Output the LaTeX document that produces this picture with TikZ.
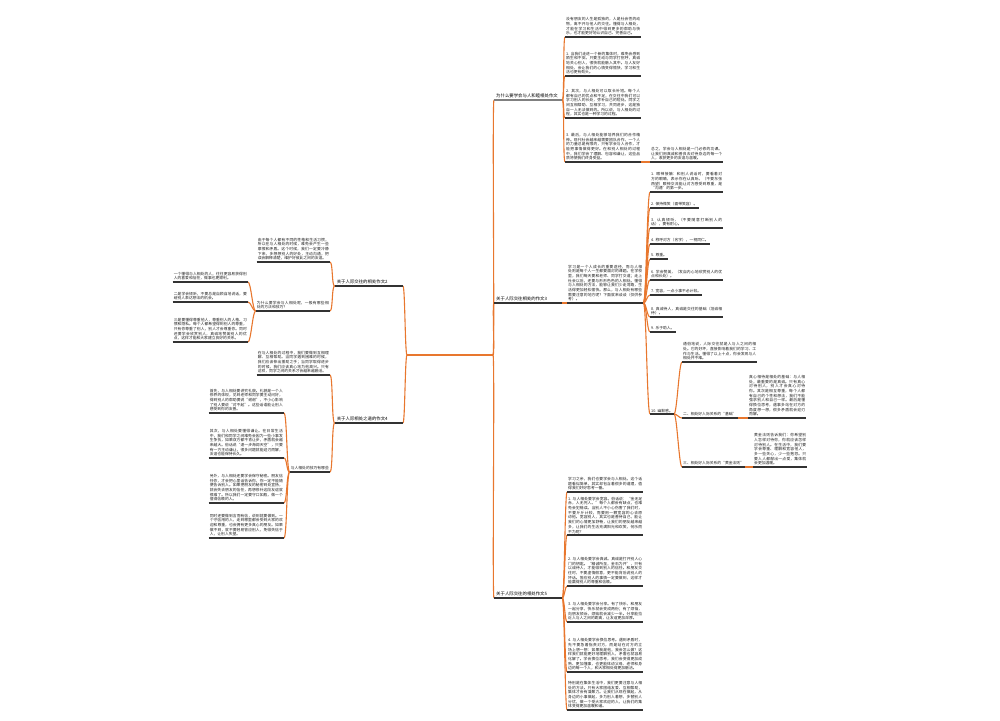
\documentclass[tikz,border=0pt]{standalone}
\usepackage{fontspec}
\usepackage{tikz}
\setmainfont{Noto Sans CJK SC}
\XeTeXlinebreaklocale "zh"
\XeTeXlinebreakskip = 0pt plus 0.5pt

\definecolor{linkorange}{HTML}{E8772E}
\definecolor{lineblack}{HTML}{333333}
\definecolor{textgray}{HTML}{1E1E1E}

\begin{document}
\begin{tikzpicture}[
	x=1pt, y=-1pt,
	conn/.style={draw=linkorange, line width=1.1pt},
	uline/.style={draw=lineblack, line width=1.1pt},
	gline/.style={draw=black!50, line width=1.3pt},
	leaf/.style={inner xsep=1pt, inner ysep=1.5pt, align=justify, text=textgray, font=\fontsize{3.8}{4.7}\selectfont},
	rleaf/.style={leaf, anchor=south west},
	lleaf/.style={leaf, anchor=south east},
	branch/.style={inner xsep=2pt, inner ysep=1.5pt, text width=64pt, text=black, font=\fontsize{4.4}{5.4}\selectfont}
]
	\useasboundingbox (0,0) rectangle (1000,720);

	\coordinate (rootL) at (407,355);
	\coordinate (rootR) at (493,355);

	% right side
	\node(b1)[branch, anchor=south west] at (494,100) {为什么要学会与人和睦相处作文};
	\node(b2)[branch, anchor=south west] at (494,303) {关于人际交往相处的作文3};
	\node(b3)[branch, anchor=south west] at (494,598) {关于人际交往的相处作文5};

	\node(b1c1)[rleaf, text width=74pt] at (565,37) {没有朋友的人生是孤独的，人是社会性的动物，离不开与他人的交往。懂得与人相处，才能在学习和生活中得到更多的帮助与快乐，也才能更好地认识自己、完善自己。};
	\node(b1c2)[rleaf, text width=74pt] at (565,76) {1. 当我们走进一个新的集体时，难免会感到陌生和不安。只要主动与同学打招呼，真诚地关心别人，很快就能融入其中。与人友好相处，会让我们的心情变得愉快，学习和生活也更有劲头。};
	\node(b1c3)[rleaf, text width=74pt] at (565,118) {2. 其次，与人相处可以取长补短。每个人都有自己的优点和不足，在交往中我们可以学习别人的长处，弥补自己的短处。同学之间互相帮助、互相学习，共同进步，这是独自一人无法做到的。所以说，与人相处的过程，其实也是一种学习的过程。};
	\node(b1c4)[rleaf, text width=74pt] at (565,162) {3. 最后，与人相处能够培养我们的合作精神。现代社会越来越需要团队合作，一个人的力量总是有限的，只有学会与人合作，才能把事情做得更好。在和别人相处的过程中，我们学会了理解、包容和谦让，这些品质将使我们终身受益。};
	\node(b1c4a)[rleaf, text width=71pt] at (650,162) {总之，学会与人相处是一门必修的功课。让我们用真诚和善良去对待身边的每一个人，收获更多的友谊与温暖。};

	\node(b2c1)[rleaf, text width=74pt] at (567,303) {学习是一个人成长的重要途径，而与人相处则是每个人一生都要面对的课题。在学校里，我们每天要和老师、同学打交道；走上社会以后，还要与形形色色的人相处。懂得与人相处的方法，能够让我们少走弯路，生活得更加轻松愉快。那么，与人相处有哪些需要注意的地方呢？下面就来谈谈（仅供参考）。};
	\node(k1)[rleaf, text width=71pt] at (650,192) {1. 眼神接触：和别人说话时，要看着对方的眼睛，表示你在认真听。（不要东张西望）眼神交流能让对方感受到尊重，是“沟通”的第一步。};
	\node(k2)[rleaf] at (650,208) {2. 保持微笑（面带笑容）。};
	\node(k3)[rleaf, text width=71pt] at (650,228) {3. 认真倾听，（不要随意打断别人的话），要有耐心。};
	\node(k4)[rleaf] at (650,244) {4. 称呼对方（名字），一视同仁。};
	\node(k5)[rleaf] at (650,259) {5. 尊重。};
	\node(k6)[rleaf, text width=71pt] at (650,280) {6. 学会赞美，（发自内心地欣赏别人的优点和长处）。};
	\node(k7)[rleaf] at (650,295) {7. 宽容，一点小事不必计较。};
	\node(k8)[rleaf, text width=71pt] at (650,317) {8. 真诚待人，真诚是交往的基础（坦诚相待）。};
	\node(k9)[rleaf] at (650,332) {9. 乐于助人。};
	\node(k10)[rleaf] at (650,414) {10. 幽默感。};
	\node(k10a)[rleaf, text width=73pt] at (682,362) {通俗地说，人际交往就是人与人之间的相处。它的好坏，直接影响着我们的学习、工作与生活。懂得了以上十点，你会发现与人相处并不难。};
	\node(k10b)[rleaf] at (682,418) {二、相处好人际关系的“基础”};
	\node(k10c)[rleaf] at (682,467) {三、相处好人际关系的“黄金法则”};
	\node(k10bt)[rleaf, text width=56pt] at (748,418) {真心相待是相处的基础：与人相处，最重要的是真诚。只有真心对待别人，别人才会真心对待你。其次是相互尊重，每个人都有自己的个性和想法，我们不能强求别人和自己一样。最后是懂得换位思考，遇事多站在对方的角度想一想，很多矛盾就会迎刃而解。};
	\node(k10ct)[rleaf, text width=52pt] at (753,467) {黄金法则告诉我们：你希望别人怎样对待你，你就应该怎样对待别人。在生活中，我们要学会尊重、理解和宽容他人，多一些关心，少一些抱怨。只要人人都献出一点爱，集体就会更加温暖。};

	\node(m1)[rleaf, text width=74pt] at (567,492) {学习之余，我们也要学会与人相处。这个话题看似简单，其实却包含着很多的道理，值得我们好好思考一番。};
	\node(m2)[rleaf, text width=74pt] at (567,535) {1. 与人相处要学会宽容。俗话说：“金无足赤，人无完人。”每个人都会有缺点，也难免会犯错误。当别人不小心伤害了我们时，不要斤斤计较，而要用一颗宽容的心去原谅他。宽容别人，其实也是善待自己，能让我们的心情更加舒畅，让我们的朋友越来越多，让我们的生活充满阳光和欢笑，何乐而不为呢？};
	\node(m3)[rleaf, text width=74pt] at (567,586) {2. 与人相处要学会真诚。真诚是打开别人心门的钥匙。“精诚所至，金石为开”，只有以诚待人，才能得到别人的信任。和朋友交往时，不要虚情假意，更不能背后说别人的坏话。答应别人的事情一定要做到，这样才能赢得别人的尊重和信赖。};
	\node(m4)[rleaf, text width=74pt] at (567,622) {3. 与人相处要学会分享。有了快乐，和朋友一起分享，快乐就会变成两份；有了烦恼，向朋友倾诉，烦恼就会减少一半。分享能拉近人与人之间的距离，让友谊更加深厚。};
	\node(m5)[rleaf, text width=74pt] at (567,672) {4. 与人相处要学会换位思考。遇到矛盾时，先不要急着指责对方，而是站在对方的立场上想一想：如果我是他，我会怎么做？这样我们就能更好地理解别人，矛盾也就容易化解了。学会换位思考，我们会变得更加成熟、更加懂事，也更能体谅父母、老师和身边的每一个人，和大家相处得更加融洽。};
	\node(m6)[rleaf, text width=74pt] at (567,710) {特别是在集体生活中，我们更要注意与人相处的方法。只有大家团结友爱、互相帮助，集体才会有凝聚力。让我们从现在做起，从身边的小事做起，多为别人着想，多替别人分忧，做一个受大家欢迎的人，让我们的集体变得更加温暖和谐。};

	% left side
	\node(b4)[branch, anchor=south east] at (403,286) {关于人际交往的相处作文2};
	\node(b5)[branch, anchor=south east] at (403,423) {关于人际相处之道的作文4};

	\node(b4c1)[lleaf, text width=71pt] at (330,262) {由于每个人都有不同的性格和生活习惯，所以在与人相处的时候，难免会产生一些摩擦和矛盾。这个时候，我们一定要冷静下来，多想想别人的好处，主动沟通，把误会解释清楚，维护好彼此之间的友谊。};
	\node(b4c2)[lleaf, text width=72pt] at (330,311) {为什么要学会与人相处呢，一般有哪些相处的方法和技巧？};
	\node(p1)[lleaf, text width=73pt] at (248,282) {一个懂得与人相处的人，往往更容易获得别人的喜爱和信任，做事也更顺利。};
	\node(p2)[lleaf, text width=73pt] at (248,302) {二是学会倾听，不要总是自顾自地说话，要给别人表达想法的机会。};
	\node(p3)[lleaf, text width=73pt] at (248,342) {三是要懂得尊重他人，尊重别人的人格、习惯和隐私。每个人都希望得到别人的尊重，只有你尊重了别人，别人才会尊重你。同时还要学会欣赏别人，真诚地赞美别人的优点，这样才能和大家建立良好的关系。};

	\node(b5c1)[lleaf, text width=71pt] at (330,375) {在与人相处的过程中，我们要做到互相理解、互相帮助。当同学遇到困难的时候，我们应该伸出援助之手；当同学取得进步的时候，我们应该真心地为他高兴。只有这样，同学之间的关系才会越来越融洽。};
	\node(b5c2)[lleaf] at (330,472) {与人相处的技巧有哪些};
	\node(q1)[lleaf, text width=73pt] at (284,413) {首先，与人相处要讲究礼貌。礼貌是一个人修养的体现，见到老师和同学要主动问好，得到别人的帮助要说“谢谢”，不小心影响了别人要说“对不起”。这些话语能让别人感受到你的友善。};
	\node(q2)[lleaf, text width=73pt] at (284,458) {其次，与人相处要懂得谦让。在日常生活中，我们和同学之间难免会因为一些小事发生争执，如果双方都不肯让步，矛盾就会越来越大。俗话说“退一步海阔天空”，只要有一方主动谦让，很多问题就能迎刃而解，友谊也能保持长久。};
	\node(q3)[lleaf, text width=73pt] at (284,503) {另外，与人相处还要学会保守秘密。朋友信任你，才会把心里话告诉你，你一定不能随便告诉别人。如果把朋友的秘密到处宣扬，就会失去朋友的信任，再想修补这段友谊就很难了。所以我们一定要守口如瓶，做一个值得信赖的人。};
	\node(q4)[lleaf, text width=73pt] at (284,538) {同时还要做到言而有信，说到就要做到。一个守信用的人，走到哪里都会受到大家的欢迎和尊重，也会拥有更多真心的朋友。如果做不到，就不要轻易答应别人，免得失信于人，让别人失望。};

	% connectors
	\draw[conn] (rootL) -- (rootR);
	\foreach \b in {b1,b2,b3}
		\draw[conn] (rootR) .. controls +(2,0) and +(-2,0) .. (\b.south west);
	\foreach \b in {b4,b5}
		\draw[conn] (rootL) .. controls +(-2,0) and +(2,0) .. (\b.south east);
	\foreach \c in {b1c1,b1c2,b1c3,b1c4}
		\draw[conn] (b1.south east) .. controls +(2,0) and +(-2,0) .. (\c.south west);
	\draw[conn] (b1c4.south east) -- (b1c4a.south west);
	\draw[conn] (b2.south east) -- (b2c1.south west);
	\foreach \c in {k1,k2,k3,k4,k5,k6,k7,k8,k9,k10}
		\draw[conn] (b2c1.south east) .. controls +(3,0) and +(-3,0) .. (\c.south west);
	\foreach \c in {k10a,k10b,k10c}
		\draw[conn] (k10.south east) .. controls +(3,0) and +(-3,0) .. (\c.south west);
	\draw[conn] (k10b.south east) -- (k10bt.south west);
	\draw[conn] (k10c.south east) -- (k10ct.south west);
	\foreach \c in {m1,m2,m3,m4,m5,m6}
		\draw[conn] (b3.south east) .. controls +(2,0) and +(-2,0) .. (\c.south west);
	\foreach \c in {b4c1,b4c2}
		\draw[conn] (b4.south west) .. controls +(-3,0) and +(3,0) .. (\c.south east);
	\foreach \c in {p1,p2,p3}
		\draw[conn] (b4c2.south west) .. controls +(-3,0) and +(3,0) .. (\c.south east);
	\foreach \c in {b5c1,b5c2}
		\draw[conn] (b5.south west) .. controls +(-3,0) and +(3,0) .. (\c.south east);
	\foreach \c in {q1,q2,q3,q4}
		\draw[conn] (b5c2.south west) .. controls +(-3,0) and +(3,0) .. (\c.south east);

	% underlines
	\draw[gline] (b1.south west) -- (b1.south east);
	\foreach \n in {b2,b3,b4,b5,b1c1,b1c2,b1c3,b1c4,b1c4a,b2c1,k1,k2,k3,k4,k5,k6,k7,k8,k9,k10,k10a,k10b,k10c,k10bt,k10ct,m1,m2,m3,m4,m5,m6,b4c1,b4c2,p1,p2,p3,b5c1,b5c2,q1,q2,q3,q4}
		\draw[uline] (\n.south west) -- (\n.south east);
\end{tikzpicture}
\end{document}
